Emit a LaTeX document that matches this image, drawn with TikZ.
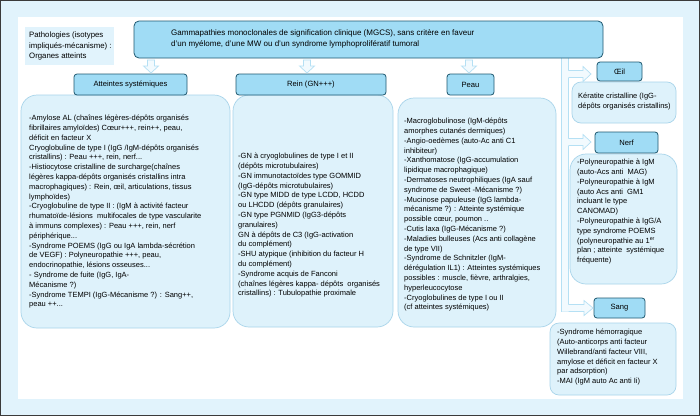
\documentclass[tikz,border=0pt]{standalone}
\usepackage{fontspec}
\setmainfont{Liberation Sans}
\definecolor{bgblue}{HTML}{E1F3FC}
\definecolor{framecol}{HTML}{3A3A3A}
\definecolor{hdrfill}{HTML}{A0DCF5}
\definecolor{hdrdraw}{HTML}{1F5870}
\definecolor{bodyfill}{HTML}{DEF2FB}
\definecolor{bodydraw}{HTML}{A8D4EA}
\definecolor{arrowdraw}{HTML}{B5E0F4}
\definecolor{arrowfill}{HTML}{F2FAFE}
\begin{document}
\begin{tikzpicture}[x=1pt,y=-1pt,
  hdrbox/.style={draw=hdrdraw, fill=hdrfill, line width=0.8pt, rounded corners=3pt, inner sep=0pt, font=\fontsize{7.6}{9}\selectfont},
  bodybox/.style={draw=bodydraw, fill=bodyfill, line width=0.7pt, rounded corners=16pt, inner sep=0pt},
  smallbox/.style={draw=bodydraw, fill=bodyfill, line width=0.7pt, rounded corners=9pt, inner sep=0pt},
  bodytxt/.style={align=left, anchor=north west, inner sep=0pt, font=\fontsize{7.5}{9.8}\selectfont},
  blockarrow/.style={draw=arrowdraw, fill=arrowfill, line width=0.7pt}
]
\useasboundingbox (0,0) rectangle (700,416);
% frame
\fill[bgblue] (0,0) rectangle (700,416);
\draw[framecol, line width=1.2pt] (0.6,0.6) rectangle (699.4,415.4);
\fill[white] (18,17) rectangle (683,399);

% legend
\node[fill=bgblue, minimum width=89pt, minimum height=38pt, inner sep=0pt] (legbox) at (69.5,46) {};
\node[align=left, anchor=west, inner sep=0pt, font=\fontsize{7.8}{10.8}\selectfont] (legtxt) at (29,46)
  {Pathologies (isotypes\\impliqués-mécanisme) :\\Organes atteints};

% bar and right arrows (drawn first)
\fill[arrowfill] (561.5,58) rectangle (568.5,311.5);
\draw[arrowdraw, line width=0.7pt] (561.5,58) -- (561.5,311.5) -- (568.5,311.5);
\draw[arrowdraw, line width=0.7pt] (568.5,58) -- (568.5,304.5);

% MGCS
\node[draw=hdrdraw, fill=hdrfill, line width=0.8pt, rounded corners=5pt, minimum width=469pt, minimum height=37pt, inner sep=0pt] (mgcs) at (368.5,39.5) {};
\node[align=left, anchor=west, inner sep=0pt, font=\fontsize{8}{11}\selectfont] (mgcstxt) at (171,39)
  {Gammapathies monoclonales de signification clinique (MGCS), sans critère en faveur\\d'un myélome, d'une MW ou d'un syndrome lymphoprolifératif tumoral};

% bodies
\node[bodybox, minimum width=209pt, minimum height=233pt] (sysbody) at (125.5,211.5) {};
\node[bodybox, minimum width=160pt, minimum height=232pt] (reinbody) at (313,211) {};
\node[bodybox, minimum width=158pt, minimum height=229pt] (peaubody) at (477,212.5) {};
\node[smallbox, minimum width=104pt, minimum height=41pt] (oeilbody) at (624,102.5) {};
\node[bodybox, minimum width=107pt, minimum height=130pt] (nerfbody) at (623.5,219) {};
\node[smallbox, minimum width=126pt, minimum height=72pt] (sangbody) at (613,359) {};

% headers
\node[hdrbox, minimum width=113pt, minimum height=21pt] (syshdr) at (130.5,84.5) {Atteintes systémiques};
\node[hdrbox, minimum width=150pt, minimum height=21pt] (reinhdr) at (311,84.5) {Rein (GN+++)};
\node[hdrbox, minimum width=47pt, minimum height=21pt] (peauhdr) at (470.5,84.5) {Peau};
\node[hdrbox, minimum width=45pt, minimum height=19pt] (oeilhdr) at (619.5,71.5) {Œil};
\node[hdrbox, minimum width=63pt, minimum height=21pt] (nerfhdr) at (626.5,142.5) {Nerf};
\node[hdrbox, minimum width=51pt, minimum height=20pt] (sanghdr) at (619.5,308) {Sang};

% down arrows
\foreach \cx/\tg in {151/syshdr,307/reinhdr,469/peauhdr}{
  \draw[blockarrow] (\cx-3.5,60) -- (\cx-3.5,66) -- (\cx-7.5,66) -- (\cx,73) -- (\cx+7.5,66) -- (\cx+3.5,66) -- (\cx+3.5,60) -- cycle;
}
% right arrows
\foreach \cy/\tx in {74/591,142/591}{
  \fill[arrowfill] (568,\cy-3.5) -- (583,\cy-3.5) -- (583,\cy-7.5) -- (\tx,\cy) -- (583,\cy+7.5) -- (583,\cy+3.5) -- (568,\cy+3.5) -- cycle;
  \draw[arrowdraw, line width=0.7pt] (568.5,\cy-3.5) -- (583,\cy-3.5) -- (583,\cy-7.5) -- (\tx,\cy) -- (583,\cy+7.5) -- (583,\cy+3.5) -- (568.5,\cy+3.5);
}
\fill[arrowfill] (562,304.5) -- (584,304.5) -- (584,300.5) -- (593,308) -- (584,315.5) -- (584,311.5) -- (562,311.5) -- cycle;
\draw[arrowdraw, line width=0.7pt] (568.5,304.5) -- (584,304.5) -- (584,300.5) -- (593,308) -- (584,315.5) -- (584,311.5) -- (568.5,311.5);

% texts
\node[bodytxt] (systxt) at (29,115) {-Amylose AL (chaînes légères-dépôts organisés\\
fibrillaires amyloïdes) Cœur+++, rein++, peau,\\
déficit en facteur X\\
Cryoglobuline de type I (IgG /IgM-dépôts organisés\\
cristallins) : Peau +++, rein, nerf...\\
-Histiocytose cristalline de surcharge(chaînes\\
légères kappa-dépôts organisés cristallins intra\\
macrophagiques) : Rein, œil, articulations, tissus\\
lymphoïdes)\\
-Cryoglobuline de type II : (IgM à activité facteur\\
rhumatoïde-lésions\ \ multifocales de type vascularite\\
à immuns complexes) : Peau +++, rein, nerf\\
périphérique...\\
-Syndrome POEMS (IgG ou IgA lambda-sécrétion\\
de VEGF) : Polyneuropathie +++, peau,\\
endocrinopathie, lésions osseuses...\\
- Syndrome de fuite (IgG, IgA-\\
Mécanisme ?)\\
-Syndrome TEMPI (IgG-Mécanisme ?) : Sang++,\\
peau ++...};

\node[bodytxt] (reintxt) at (238,153) {-GN à cryoglobulines de type I et II\\
(dépôts microtubulaires)\\
-GN immunotactoïdes type GOMMID\\
(IgG-dépôts microtubulaires)\\
-GN type MIDD de type LCDD, HCDD\\
ou LHCDD (dépôts granulaires)\\
-GN type PGNMID (IgG3-dépôts\\
granulaires)\\
GN à dépôts de C3 (IgG-activation\\
du complément)\\
-SHU atypique (inhibition du facteur H\\
du complément)\\
-Syndrome acquis de Fanconi\\
(chaînes légères kappa- dépôts\ \ organisés\\
cristallins) : Tubulopathie proximale};

\node[bodytxt] (peautxt) at (404,118) {-Macroglobulinose (IgM-dépôts\\
amorphes cutanés dermiques)\\
-Angio-oedèmes (auto-Ac anti C1\\
inhibiteur)\\
-Xanthomatose (IgG-accumulation\\
lipidique macrophagique)\\
-Dermatoses neutrophiliques (IgA sauf\\
syndrome de Sweet -Mécanisme ?)\\
-Mucinose papuleuse (IgG lambda-\\
mécanisme ?) : Atteinte systémique\\
possible cœur, poumon ..\\
-Cutis laxa (IgG-Mécanisme ?)\\
-Maladies bulleuses (Acs anti collagène\\
de type VII)\\
-Syndrome de Schnitzler (IgM-\\
dérégulation IL1) : Atteintes systémiques\\
possibles : muscle, fièvre, arthralgies,\\
hyperleucocytose\\
-Cryoglobulines de type I ou II\\
(cf atteintes systémiques)};

\node[bodytxt] (oeiltxt) at (578,93) {Kératite cristalline (IgG-\\dépôts organisés cristallins)};

\node[bodytxt] (nerftxt) at (577,159) {-Polyneuropathie à IgM\\
(auto-Acs anti\ \ MAG)\\
-Polyneuropathie à IgM\\
(auto Acs anti\ \ GM1\\
incluant le type\\
CANOMAD)\\
-Polyneuropathie à IgG/A\\
type syndrome POEMS\\
(polyneuropathie au 1\textsuperscript{er}\\
plan ; atteinte\ \ systémique\\
fréquente)};

\node[bodytxt] (sangtxt) at (557,329) {-Syndrome hémorragique\\
(Auto-anticorps anti facteur\\
Willebrand/anti facteur VIII,\\
amylose et déficit en facteur X\\
par adsorption)\\
-MAI (IgM auto Ac anti Ii)};
\end{tikzpicture}
\end{document}
